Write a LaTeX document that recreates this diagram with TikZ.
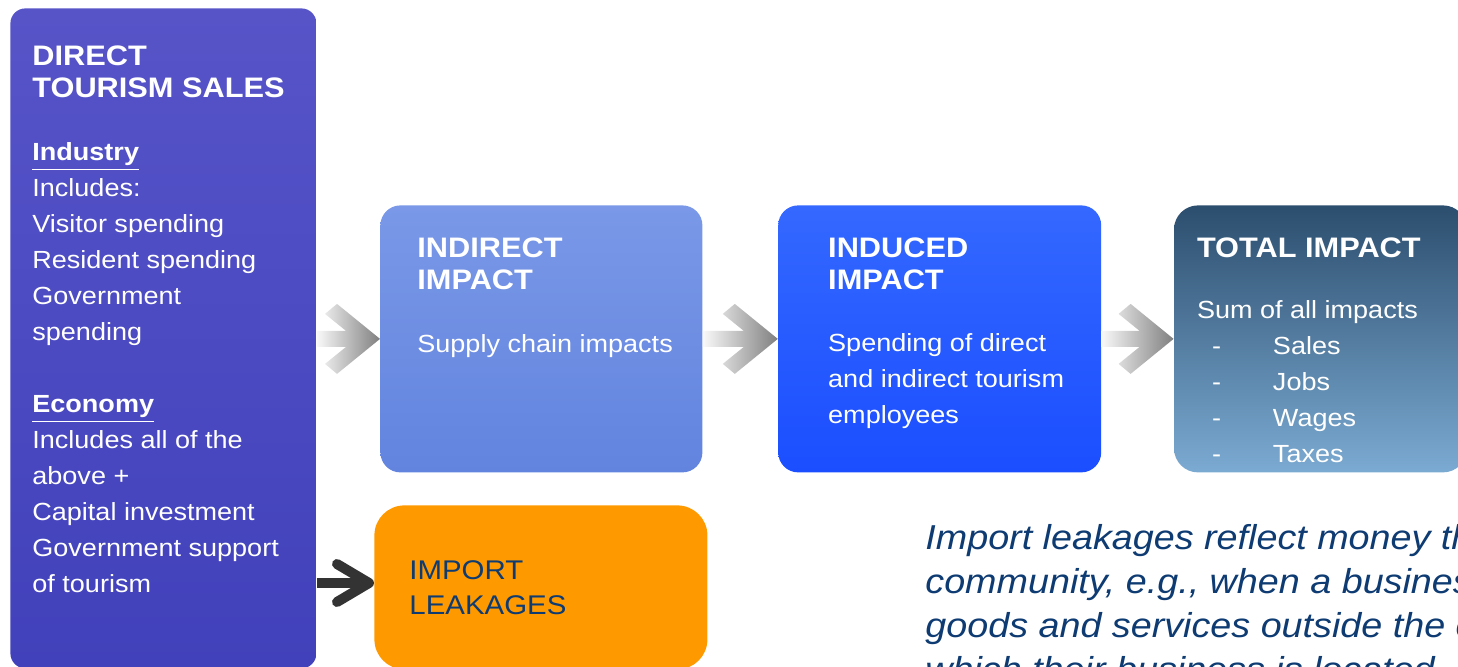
\documentclass[tikz,border=0pt]{standalone}
\usepackage{fontspec}
\setmainfont{Liberation Sans}[FakeStretch=1.09]
\usepackage{tikz}
\usetikzlibrary{positioning, arrows.meta}

\definecolor{directtop}{HTML}{5754C8}
\definecolor{directbot}{HTML}{4141BB}
\definecolor{indtop}{HTML}{7A98E7}
\definecolor{indbot}{HTML}{6284DF}
\definecolor{inducedtop}{HTML}{3468FF}
\definecolor{inducedbot}{HTML}{1B4EFF}
\definecolor{totaltop}{HTML}{2C4E6E}
\definecolor{totalbot}{HTML}{7BAAD2}
\definecolor{leakorange}{HTML}{FF9900}
\definecolor{navy}{HTML}{0E3B72}

% grey chevron arrow from box #1 to box #2
\newcommand{\chevarrow}[2]{%
  \coordinate (tail) at (#1.east |- #2.west);
  \shade[left color=gray!5, right color=black!50]
    ([yshift=4pt]tail) -- ([shift={(-34,-8)}]#2.west)
    -- ([shift={(-55,-25)}]#2.west) -- ([shift={(-43,-35)}]#2.west)
    -- (#2.west)
    -- ([shift={(-43,35)}]#2.west) -- ([shift={(-55,25)}]#2.west)
    -- ([shift={(-34,8)}]#2.west) -- ([yshift=-4pt]tail) -- cycle;
}

\begin{document}
\begin{tikzpicture}[
x=0.5pt, y=-0.5pt,
boxnode/.style={rectangle,
  anchor=north west,
  inner sep=0pt,
  rounded corners=10pt
},
titletext/.style={anchor=base west,
  inner sep=0pt,
  align=left,
  text=white,
  font=\fontsize{14.1}{16}\selectfont\bfseries
},
bodytext/.style={anchor=base west,
  inner sep=0pt,
  align=left,
  text=white,
  font=\fontsize{12.4}{18}\selectfont
},
darkarrow/.style={line width=5pt,
  black!80,
  -{Straight Barb[length=16pt,width=19pt,round]}
}
]
\useasboundingbox (0,0) rectangle (1458,667);
\clip (0,0) rectangle (1458,667);

% boxes
\node[boxnode, rounded corners=7.5pt, minimum width=153pt, minimum height=330pt,
  top color=directtop, bottom color=directbot] (direct) at (10,8) {};
\node[boxnode, minimum width=161pt, minimum height=133.5pt,
  top color=indtop, bottom color=indbot] (indirect) at (380,205) {};
\node[boxnode, minimum width=161.5pt, minimum height=133.5pt,
  top color=inducedtop, bottom color=inducedbot, right=37.5pt of indirect] (induced) {};
\node[boxnode, rounded corners=12pt, minimum width=146.5pt, minimum height=133.5pt,
  top color=totaltop, bottom color=totalbot, right=36pt of induced] (total) {};
\node[boxnode, rounded corners=15pt, minimum width=166.5pt, minimum height=82pt,
  fill=leakorange] (imp) at (374,505) {};

% texts (placed at the baseline of their last line)
\node[titletext] (dirtitle) at ([shift={(22,90)}]direct.north west)
    {DIRECT\\TOURISM SALES};
\node[bodytext] (dirbody) at ([shift={(22,585)}]direct.north west)
    {\underline{\textbf{Industry}}\\Includes:\\Visitor spending\\Resident spending\\
     Government\\spending\\[18pt]
     \underline{\textbf{Economy}}\\Includes all of the\\above +\\Capital investment\\
     Government support\\of tourism};

\node[titletext] (indtitle) at ([shift={(37,85)}]indirect.north west)
    {INDIRECT\\IMPACT};
\node[bodytext] (indbody) at ([shift={(37,148)}]indirect.north west)
    {Supply chain impacts};

\node[titletext] (inducedtitle) at ([shift={(50,85)}]induced.north west)
    {INDUCED\\IMPACT};
\node[bodytext] (inducedbody) at ([shift={(50,219)}]induced.north west)
    {Spending of direct\\and indirect tourism\\employees};

\node[titletext] (totaltitle) at ([shift={(23,53)}]total.north west)
    {TOTAL IMPACT};
\node[bodytext] (totalbody) at ([shift={(23,258)}]total.north west)
    {Sum of all impacts\\
     \makebox[38pt][l]{\hspace{7.5pt}-}Sales\\
     \makebox[38pt][l]{\hspace{7.5pt}-}Jobs\\
     \makebox[38pt][l]{\hspace{7.5pt}-}Wages\\
     \makebox[38pt][l]{\hspace{7.5pt}-}Taxes};

\node[bodytext, text=navy, font=\fontsize{13.5}{17.5}\selectfont] (imptext)
    at ([shift={(35,110)}]imp.north west) {IMPORT\\LEAKAGES};

\node[bodytext, text=navy, font=\fontsize{17.3}{22}\selectfont\itshape] (note) at (925,682)
    {Import leakages reflect money that leaves the\\
     community, e.g., when a business purchases\\
     goods and services outside the community in\\
     which their business is located.};

% arrows
\chevarrow{direct}{indirect}
\chevarrow{indirect}{induced}
\chevarrow{induced}{total}

\coordinate (leak) at (0,583);
\draw[darkarrow] (direct.east |- leak) -- (imp.west |- leak);
\end{tikzpicture}
\end{document}
